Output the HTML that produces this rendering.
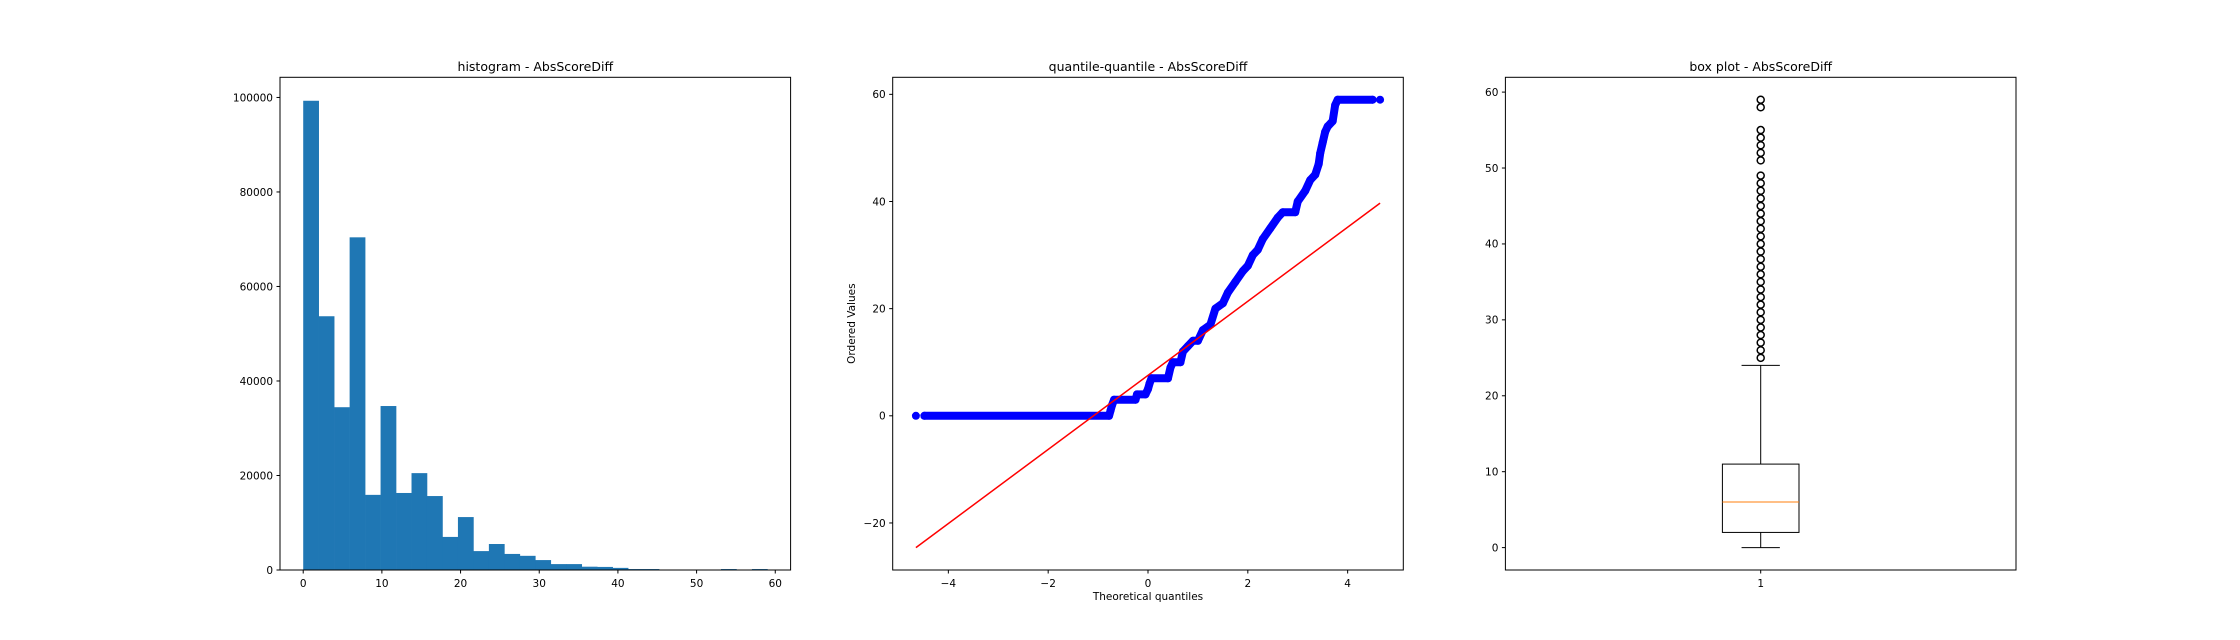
<!DOCTYPE html>
<html><head><meta charset="utf-8">
<style>
html,body{margin:0;padding:0;background:#fff;}
svg{display:block;font-family:"DejaVu Sans","Liberation Sans",sans-serif;}
</style></head>
<body>
<svg id="fig" width="2240" height="640" viewBox="0 0 2240 640" xmlns="http://www.w3.org/2000/svg"></svg>
<script>
// ---- Histogram data ----
const histBinStart = 0;
const histBinEnd = 59;
const histCounts = [99300,53700,34450,70400,15900,34700,16300,20500,15650,7000,11200,4000,5500,3400,3000,2100,1250,1250,700,650,450,200,200,50,50,50,0,200,0,200];
const histXTicks = [0,10,20,30,40,50,60];
const histYTicks = [0,20000,40000,60000,80000,100000];
// ---- QQ data ----
const qqX = [-4.48,-0.78,-0.75,-0.72,-0.68,-0.25,-0.22,-0.05,0.0,0.03,0.07,0.4,0.45,0.5,0.65,0.7,0.8,0.9,1.0,1.1,1.25,1.35,1.5,1.6,1.75,1.9,2.0,2.1,2.2,2.3,2.45,2.6,2.7,2.95,3.0,3.15,3.25,3.35,3.42,3.45,3.5,3.55,3.6,3.7,3.75,3.8,4.5];
const qqY = [0,0,1,2,3,3,4,4,5,6,7,7,9,10,10,12,13,14,14,16,17,20,21,23,25,27,28,30,31,33,35,37,38,38,40,42,44,45,47,49,51,53,54,55,58,59,59];
const qqIsoX = [-4.65,4.65];
const qqIsoY = [0,59];
const qqLineX = [-4.65,4.65];
const qqLineY = [-24.6,39.7];
const qqXTicks = [-4,-2,0,2,4];
const qqYTicks = [-20,0,20,40,60];
// ---- Box plot data ----
const boxStats = [0,2,6,11,24]; // whisker low, q1, median, q3, whisker high
const boxFliers = [25,26,27,28,29,30,31,32,33,34,35,36,37,38,39,40,41,42,43,44,45,46,47,48,49,51,52,53,54,55,58,59];
const boxYTicks = [0,10,20,30,40,50,60];
const boxXTicks = [1];

const NS = "http://www.w3.org/2000/svg";
const svg = document.getElementById('fig');
function el(tag, attrs, parent){
  const e = document.createElementNS(NS, tag);
  for (const k in attrs) e.setAttribute(k, attrs[k]);
  (parent||svg).appendChild(e);
  return e;
}
const TOP = 77.3, BOT = 570;
const AX = [[280,790.6],[892.7,1403.3],[1505.4,2016]];
const FS = 10.5, TFS = 12.5;
function lin(d0,d1,r0,r1){ return v => r0 + (v-d0)/(d1-d0)*(r1-r0); }

function axesFrame(i, name, title){
  const g = el('g', {});
  
  
  const t = el('text', {x:(AX[i][0]+AX[i][1])/2, y:TOP-6.5, 'font-size':TFS, 'text-anchor':'middle', fill:'#000'}, g);
  t.textContent = title;
  
  
  return g;
}
function drawFrame(i, g){
  const r = el('rect', {x:AX[i][0], y:TOP, width:AX[i][1]-AX[i][0], height:BOT-TOP, fill:'none', stroke:'#000', 'stroke-width':1}, g);
  
  
}
function xTicks(g, ticks, sx, fmt){
  ticks.forEach(v=>{
    const x = sx(v);
    el('line', {x1:x, x2:x, y1:BOT, y2:BOT+3.5, stroke:'#000', 'stroke-width':1}, g);
    const t = el('text', {x:x, y:BOT+17, 'font-size':FS, 'text-anchor':'middle', fill:'#000'}, g);
    t.textContent = fmt(v);
    
    
  });
}
function yTicks(g, i, ticks, sy, fmt){
  ticks.forEach(v=>{
    const y = sy(v);
    el('line', {x1:AX[i][0]-3.5, x2:AX[i][0], y1:y, y2:y, stroke:'#000', 'stroke-width':1}, g);
    const t = el('text', {x:AX[i][0]-7, y:y+3.8, 'font-size':FS, 'text-anchor':'end', fill:'#000'}, g);
    t.textContent = fmt(v);
    
    
  });
}
const fmtNum = v => (v<0 ? '\u2212'+Math.abs(v) : String(v));

// ===== Histogram =====
(function(){
  const g = axesFrame(0, 'histogram-panel', 'histogram - AbsScoreDiff');
  const span = histBinEnd - histBinStart;
  const sx = lin(histBinStart-0.05*span, histBinEnd+0.05*span, AX[0][0], AX[0][1]);
  const maxC = Math.max(...histCounts);
  const sy = lin(0, maxC*1.05, BOT, TOP);
  const w = span/histCounts.length;
  histCounts.forEach((c,k)=>{
    const x0 = sx(histBinStart+k*w), x1 = sx(histBinStart+(k+1)*w);
    const r = el('rect', {x:x0, y:sy(c), width:x1-x0+0.3, height:BOT-sy(c), fill:'#1f77b4'}, g);
    
    
  });
  drawFrame(0, g);
  xTicks(g, histXTicks, sx, fmtNum);
  yTicks(g, 0, histYTicks, sy, fmtNum);
})();

// ===== QQ plot =====
(function(){
  const g = axesFrame(1, 'qq-plot-panel', 'quantile-quantile - AbsScoreDiff');
  const xmin = Math.min(...qqIsoX, ...qqX, ...qqLineX), xmax = Math.max(...qqIsoX, ...qqX, ...qqLineX);
  const ymin = Math.min(...qqY, ...qqLineY), ymax = Math.max(...qqY, ...qqLineY, ...qqIsoY);
  const sx = lin(xmin-0.05*(xmax-xmin), xmax+0.05*(xmax-xmin), AX[1][0], AX[1][1]);
  const sy = lin(ymin-0.05*(ymax-ymin), ymax+0.05*(ymax-ymin), BOT, TOP);
  const pts = qqX.map((x,k)=>sx(x)+','+sy(qqY[k])).join(' ');
  const pl = el('polyline', {points:pts, fill:'none', stroke:'#0000ff', 'stroke-width':8, 'stroke-linejoin':'round', 'stroke-linecap':'round'}, g);
  
  
  qqX.forEach((x,k)=>{
    const c = el('circle', {cx:sx(x), cy:sy(qqY[k]), r:4, fill:'#0000ff'}, g);
    
    
  });
  qqIsoX.forEach((x,k)=>{
    const c = el('circle', {cx:sx(x), cy:sy(qqIsoY[k]), r:4, fill:'#0000ff'}, g);
    
    
  });
  const ln = el('line', {x1:sx(qqLineX[0]), y1:sy(qqLineY[0]), x2:sx(qqLineX[1]), y2:sy(qqLineY[1]), stroke:'#ff0000', 'stroke-width':1.5}, g);
  
  
  drawFrame(1, g);
  xTicks(g, qqXTicks, sx, fmtNum);
  yTicks(g, 1, qqYTicks, sy, fmtNum);
  const xl = el('text', {x:(AX[1][0]+AX[1][1])/2, y:600, 'font-size':FS, 'text-anchor':'middle', fill:'#000'}, g);
  xl.textContent = 'Theoretical quantiles';
  
  
  const yl = el('text', {x:0, y:0, 'font-size':FS, 'text-anchor':'middle', fill:'#000', transform:'translate(855,'+((TOP+BOT)/2)+') rotate(-90)'}, g);
  yl.textContent = 'Ordered Values';
  
  
})();

// ===== Box plot =====
(function(){
  const g = axesFrame(2, 'box-plot-panel', 'box plot - AbsScoreDiff');
  const lo = Math.min(boxStats[0], ...boxFliers), hi = Math.max(boxStats[4], ...boxFliers);
  const sy = lin(lo-0.05*(hi-lo), hi+0.05*(hi-lo), BOT, TOP);
  const sx = lin(0.5, 1.5, AX[2][0], AX[2][1]);
  const bw = 0.15, cw = 0.075;
  const pos = boxXTicks[0];
  const s = {fill:'none', stroke:'#000', 'stroke-width':1};
  const box = el('rect', Object.assign({x:sx(pos-bw/2), y:sy(boxStats[3]), width:sx(pos+bw/2)-sx(pos-bw/2), height:sy(boxStats[1])-sy(boxStats[3])}, s), g);
  
  
  const wl = el('line', Object.assign({x1:sx(pos), x2:sx(pos), y1:sy(boxStats[1]), y2:sy(boxStats[0])}, s), g);
  
  
  const wh = el('line', Object.assign({x1:sx(pos), x2:sx(pos), y1:sy(boxStats[3]), y2:sy(boxStats[4])}, s), g);
  
  
  const cl = el('line', Object.assign({x1:sx(pos-cw/2), x2:sx(pos+cw/2), y1:sy(boxStats[0]), y2:sy(boxStats[0])}, s), g);
  
  
  const ch = el('line', Object.assign({x1:sx(pos-cw/2), x2:sx(pos+cw/2), y1:sy(boxStats[4]), y2:sy(boxStats[4])}, s), g);
  
  
  const md = el('line', {x1:sx(pos-bw/2), x2:sx(pos+bw/2), y1:sy(boxStats[2]), y2:sy(boxStats[2]), stroke:'#ff7f0e', 'stroke-width':1}, g);
  
  
  boxFliers.forEach(v=>{
    const c = el('circle', {cx:sx(pos), cy:sy(v), r:3.5, fill:'none', stroke:'#000', 'stroke-width':1.5}, g);
    
    
  });
  drawFrame(2, g);
  xTicks(g, boxXTicks, sx, fmtNum);
  yTicks(g, 2, boxYTicks, sy, fmtNum);
})();
</script>
</body></html>
